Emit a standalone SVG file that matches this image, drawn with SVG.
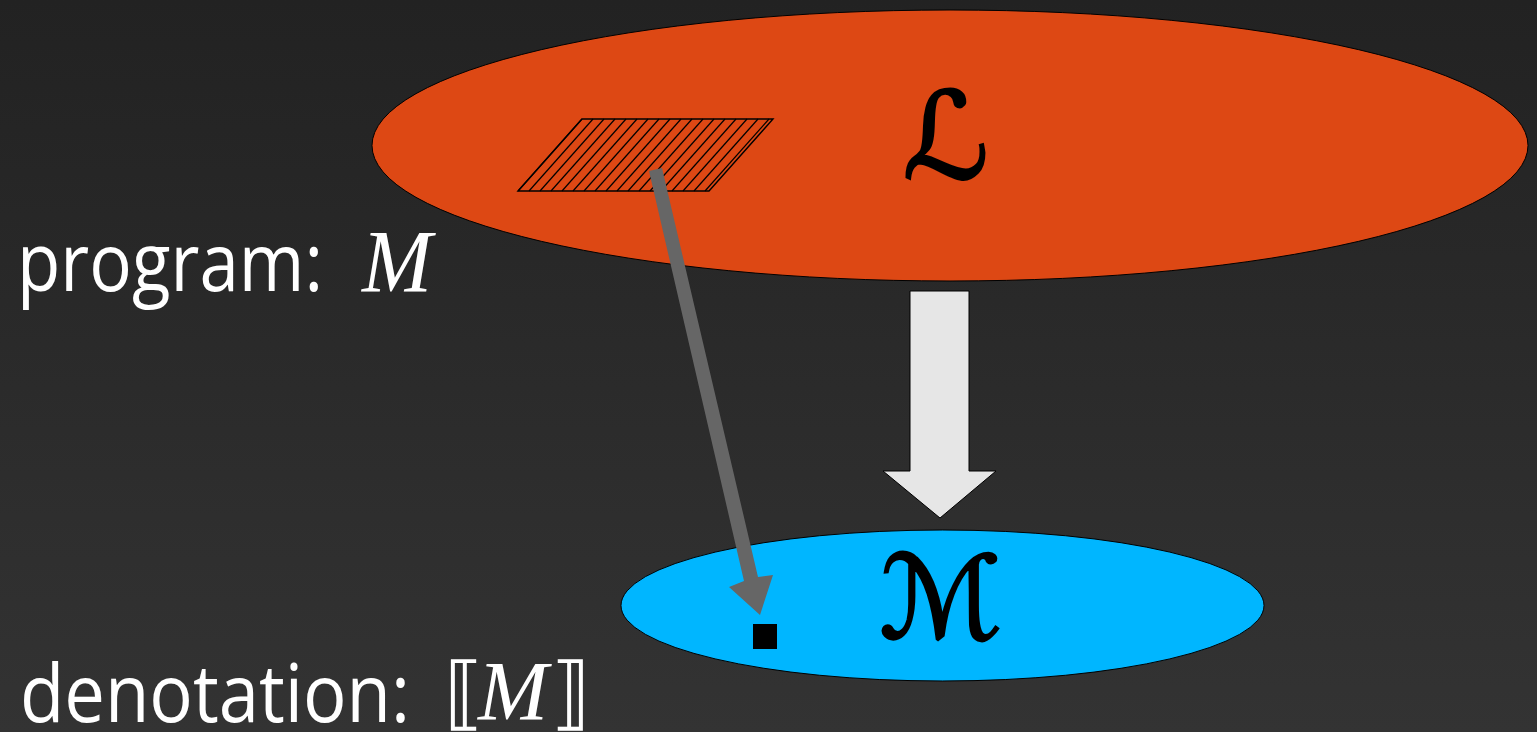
<svg xmlns="http://www.w3.org/2000/svg" width="1537" height="732" viewBox="0 0 1537 732">
<defs>
<linearGradient id="bg" x1="0" y1="0" x2="0" y2="1">
<stop offset="0" stop-color="#222222"/>
<stop offset="1" stop-color="#333333"/>
</linearGradient>
<style>
.lbl{font-family:"Open Sans","DejaVu Sans",sans-serif;fill:#ffffff;font-size:80px;}
.math{font-family:"Liberation Serif","DejaVu Serif",serif;font-style:italic;fill:#ffffff;}
.brk{font-family:"DejaVu Serif","DejaVu Sans",serif;font-style:normal;fill:#ffffff;}
.cal{font-family:"DejaVu Serif","DejaVu Sans",serif;font-style:italic;fill:#000000;stroke:#000;stroke-width:2.5;}
.hatch{stroke:#000;stroke-width:1.2;}
</style>
</defs>
<rect width="1537" height="732" fill="url(#bg)"/>
<g id="L-set">
<ellipse cx="950" cy="145.5" rx="578" ry="135.5" fill="#dd4814" stroke="#000" stroke-width="1"/>
<text class="cal" x="946" y="178" font-size="120" text-anchor="middle">ℒ</text>
</g>
<g id="program-region">
<g class="hatch">
<line x1="582" y1="119" x2="518" y2="191"/>
<line x1="593" y1="119" x2="529" y2="191"/>
<line x1="604" y1="119" x2="540" y2="191"/>
<line x1="615" y1="119" x2="551" y2="191"/>
<line x1="626" y1="119" x2="562" y2="191"/>
<line x1="637" y1="119" x2="573" y2="191"/>
<line x1="648" y1="119" x2="584" y2="191"/>
<line x1="659" y1="119" x2="595" y2="191"/>
<line x1="670" y1="119" x2="606" y2="191"/>
<line x1="681" y1="119" x2="617" y2="191"/>
<line x1="692" y1="119" x2="628" y2="191"/>
<line x1="703" y1="119" x2="639" y2="191"/>
<line x1="714" y1="119" x2="650" y2="191"/>
<line x1="725" y1="119" x2="661" y2="191"/>
<line x1="736" y1="119" x2="672" y2="191"/>
<line x1="747" y1="119" x2="683" y2="191"/>
<line x1="758" y1="119" x2="694" y2="191"/>
<line x1="769" y1="119" x2="705" y2="191"/>
</g>
<polygon points="582,119 773,119 709,191 518,191" fill="none" stroke="#000" stroke-width="1.4"/>
</g>
<g id="M-set">
<ellipse cx="942.5" cy="605.5" rx="321.5" ry="75.5" fill="#00b6ff" stroke="#000" stroke-width="1"/>
<text class="cal" x="941" y="638" font-size="115" text-anchor="middle">ℳ</text>
</g>
<g id="denotation-point">
<rect x="753" y="624" width="24" height="25" fill="#000"/>
</g>
<g id="connectors">
<polygon points="649,171 662,168 758,577 773,575 760,615 729,587 744,581" fill="#666666"/>
<polygon points="910,291 969,291 969,471 996,471 940,518 883,471 910,471" fill="#e6e6e6" stroke="#000" stroke-width="1"/>
</g>
<g id="labels">
<text class="lbl" x="17" y="291" textLength="306" lengthAdjust="spacingAndGlyphs">program:</text>
<text class="math" x="362" y="291" font-size="89" textLength="70" lengthAdjust="spacingAndGlyphs">M</text>
<text class="lbl" x="20" y="722" textLength="390" lengthAdjust="spacingAndGlyphs">denotation:</text>
<text class="math" y="720" font-size="84"><tspan class="brk" x="444" font-size="80">⟦</tspan><tspan x="478">M</tspan><tspan class="brk" x="551" font-size="80">⟧</tspan></text>
</g>
</svg>
